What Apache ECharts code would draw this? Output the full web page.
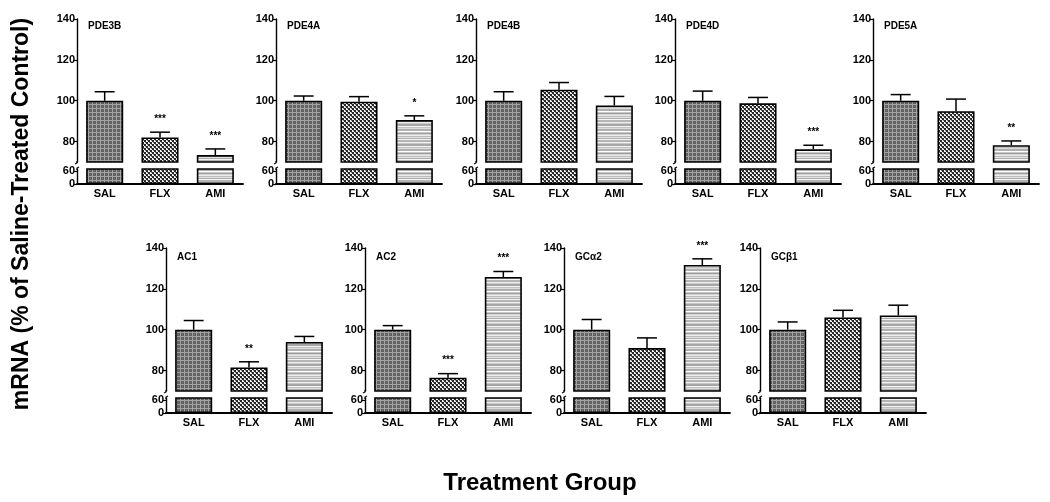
<!DOCTYPE html>
<html>
<head>
<meta charset="utf-8">
<script src="https://cdn.jsdelivr.net/npm/echarts@6/dist/echarts.min.js"></script>
<style>
html,body{margin:0;padding:0;background:#fff;}
#chart{width:1050px;height:502px;}
</style>
</head>
<body>
<div id="chart"></div>
<script>
// ---- data ----
const categories = ['SAL', 'FLX', 'AMI'];
const panelNames = ['PDE3B', 'PDE4A', 'PDE4B', 'PDE4D', 'PDE5A', 'AC1', 'AC2', 'GCα2', 'GCβ1'];
const meanValues = [
  [100, 82.0, 73.4],
  [100, 99.5, 90.5],
  [100, 105.4, 97.7],
  [100, 98.7, 76.2],
  [100, 94.9, 78.2],
  [100, 81.5, 94.0],
  [100, 76.5, 125.8],
  [100, 91.0, 131.7],
  [100, 106.0, 107.0]
];
const errorTops = [
  [104.4, 84.6, 76.4],
  [102.3, 102.0, 92.6],
  [104.4, 108.9, 102.1],
  [104.7, 101.6, 78.2],
  [103.0, 100.8, 80.3],
  [104.5, 84.3, 96.7],
  [102.0, 78.5, 128.5],
  [105.0, 96.0, 134.7],
  [103.8, 109.5, 112.0]
];
const significance = [
  ['', '***', '***'],
  ['', '', '*'],
  ['', '', ''],
  ['', '', '***'],
  ['', '', '**'],
  ['', '**', ''],
  ['', '***', '***'],
  ['', '', '***'],
  ['', '', '']
];
const upperTicks = [80, 100, 120, 140];
const lowerTicks = [0, 60];
const yAxisTitle = 'mRNA (% of Saline-Treated Control)';
const xAxisTitle = 'Treatment Group';

// ---- layout ----
const FONT = '"Liberation Sans", Arial, sans-serif';
const panelLeft = [77, 276, 476, 675, 873, 166, 365, 564, 760];
const rowTop = [19, 248];
const PW = 166, UH = 143, LGAP = 150, LH = 15;
const UMIN = 70, UMAX = 140, LMIN = 0, LMAX = 69;

// ---- patterns ----
function makeTile(w, h, draw) {
  const c = document.createElement('canvas');
  c.width = w; c.height = h;
  const ctx = c.getContext('2d');
  draw(ctx);
  return c;
}
const salTile = makeTile(4, 4, ctx => {
  ctx.fillStyle = '#5e5e5e'; ctx.fillRect(0, 0, 4, 4);
  ctx.fillStyle = '#a4a4a4';
  ctx.fillRect(0, 0, 4, 1);
  ctx.fillRect(0, 0, 1, 4);
  ctx.fillStyle = '#7a7a7a';
  ctx.fillRect(2, 2, 1, 1);
});
const flxTile = makeTile(4, 4, ctx => {
  ctx.fillStyle = '#f4f4f4'; ctx.fillRect(0, 0, 4, 4);
  ctx.fillStyle = '#262626';
  ctx.fillRect(0, 0, 2, 2);
  ctx.fillRect(2, 2, 2, 2);
  ctx.fillStyle = '#777';
  ctx.fillRect(1, 2, 1, 1);
  ctx.fillRect(3, 0, 1, 1);
});
const amiRows = ['#b4b4b4', '#b4b4b4', '#efefef', '#c8c8c8', '#a6a6a6', '#a6a6a6', '#f2f2f2', '#c2c2c2',
                 '#dadada', '#b0b0b0', '#b0b0b0', '#ffffff', '#c6c6c6', '#9e9e9e', '#d2d2d2', '#ececec',
                 '#bababa', '#e6e6e6', '#aaaaaa', '#f6f6f6'];
const amiTile = makeTile(4, amiRows.length, ctx => {
  amiRows.forEach((col, i) => { ctx.fillStyle = col; ctx.fillRect(0, i, 4, 1); });
});
const patterns = [salTile, flxTile, amiTile].map(t => ({ image: t, repeat: 'repeat' }));

// ---- build option ----
const grid = [], xAxis = [], yAxis = [], series = [], title = [];
const textBase = { color: '#000', fontFamily: FONT, fontWeight: 'bold' };

panelNames.forEach((name, i) => {
  const row = i < 5 ? 0 : 1;
  const left = panelLeft[i];
  const top = rowTop[row];
  const gu = grid.length;
  grid.push({ left: left, top: top, width: PW, height: UH, containLabel: false });
  grid.push({ left: left, top: top + LGAP, width: PW, height: LH, containLabel: false });

  xAxis.push({
    type: 'category', gridIndex: gu, data: categories, show: false
  });
  xAxis.push({
    type: 'category', gridIndex: gu + 1, data: categories,
    axisLine: { lineStyle: { color: '#000', width: 1.8 } },
    axisTick: { show: false },
    axisLabel: Object.assign({ fontSize: 11, margin: 4 }, textBase)
  });
  const yCommon = {
    type: 'value',
    splitLine: { show: false },
    axisLine: { show: true, lineStyle: { color: '#000', width: 1.4 } },
    axisTick: { show: true, length: 3, lineStyle: { color: '#000', width: 1.2 } }
  };
  yAxis.push(Object.assign({}, yCommon, {
    gridIndex: gu, min: UMIN, max: UMAX,
    axisTick: Object.assign({}, yCommon.axisTick, { customValues: upperTicks }),
    axisLabel: Object.assign({ fontSize: 11, margin: 2, customValues: upperTicks }, textBase)
  }));
  yAxis.push(Object.assign({}, yCommon, {
    gridIndex: gu + 1, min: LMIN, max: LMAX,
    axisTick: Object.assign({}, yCommon.axisTick, { customValues: lowerTicks }),
    axisLabel: Object.assign({ fontSize: 11, margin: 2, customValues: lowerTicks }, textBase)
  }));

  const barData = meanValues[i].map((v, j) => ({ value: v, itemStyle: { color: patterns[j] } }));
  [gu, gu + 1].forEach(g => {
    series.push({
      type: 'bar', xAxisIndex: g, yAxisIndex: g,
      data: barData, barCategoryGap: '33%', clip: true,
      itemStyle: { borderColor: '#000', borderWidth: 1.6 },
      silent: true
    });
  });

  // error bars + significance stars
  const errData = meanValues[i].map((v, j) => [j, v, errorTops[i][j]]);
  series.push({
    type: 'custom', xAxisIndex: gu, yAxisIndex: gu, clip: false, silent: true,
    data: errData,
    renderItem: function (params, api) {
      const j = api.value(0);
      const p0 = api.coord([j, api.value(1)]);
      const p1 = api.coord([j, api.value(2)]);
      const band = api.size([1, 0])[0];
      const half = band * 0.18;
      const st = significance[i][params.dataIndex];
      const children = [
        { type: 'line', shape: { x1: p0[0], y1: p0[1], x2: p1[0], y2: p1[1] }, style: { stroke: '#000', lineWidth: 1.5 } },
        { type: 'line', shape: { x1: p1[0] - half, y1: p1[1], x2: p1[0] + half, y2: p1[1] }, style: { stroke: '#000', lineWidth: 1.5 } }
      ];
      if (st) {
        children.push({
          type: 'text',
          style: { text: st, x: p1[0], y: p1[1] - 8, align: 'center', verticalAlign: 'bottom',
                   font: 'bold 10px ' + FONT, fill: '#000' }
        });
      }
      return { type: 'group', children: children };
    }
  });

  // axis break marks
  series.push({
    type: 'custom', xAxisIndex: gu, yAxisIndex: gu, clip: false, silent: true,
    data: [[0, UMIN]],
    renderItem: function (params, api) {
      const y = api.coord([0, UMIN])[1];
      const x = params.coordSys.x;
      return { type: 'polyline', shape: { points: [[x, y - 1], [x, y + 1], [x - 2, y + 2]] }, style: { stroke: '#000', lineWidth: 1.2, fill: null } };
    }
  });
  series.push({
    type: 'custom', xAxisIndex: gu + 1, yAxisIndex: gu + 1, clip: false, silent: true,
    data: [[0, LMAX]],
    renderItem: function (params, api) {
      const y = api.coord([0, LMAX])[1];
      const x = params.coordSys.x;
      return { type: 'polyline', shape: { points: [[x, y + 1], [x, y - 1], [x + 2, y - 2]] }, style: { stroke: '#000', lineWidth: 1.2, fill: null } };
    }
  });

  title.push({
    text: name, left: left + 11, top: top + (row ? 4 : 2), padding: 0,
    textStyle: Object.assign({ fontSize: 10 }, textBase)
  });
});

const option = {
  animation: false,
  backgroundColor: '#fff',
  title: title,
  grid: grid, xAxis: xAxis, yAxis: yAxis, series: series,
  graphic: [
    { type: 'text', x: 22, y: 214, rotation: Math.PI / 2,
      style: { text: yAxisTitle, align: 'center', verticalAlign: 'middle', font: 'bold 23px ' + FONT, fill: '#000' } },
    { type: 'text', x: 540, y: 483,
      style: { text: xAxisTitle, align: 'center', verticalAlign: 'middle', font: 'bold 24px ' + FONT, fill: '#000' } }
  ]
};
const chart = echarts.init(document.getElementById('chart'), null, { renderer: 'canvas' });
chart.setOption(option);
</script>
</body>
</html>
